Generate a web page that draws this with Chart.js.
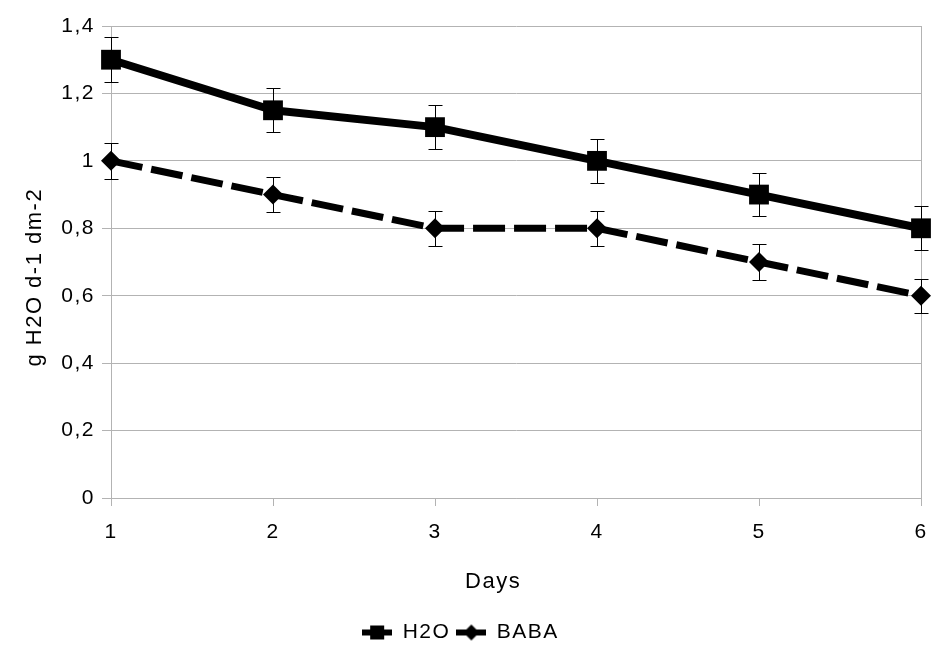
<!DOCTYPE html>
<html>
<head>
<meta charset="utf-8">
<script src="https://cdn.jsdelivr.net/npm/chart.js@4/dist/chart.umd.min.js"></script>
<style>
  html, body { margin: 0; padding: 0; background: #fff; }
  #wrap { width: 932px; height: 646px; }
</style>
</head>
<body>
<div id="wrap"><canvas id="c" width="932" height="646"></canvas></div>
<script>
const days = ['1', '2', '3', '4', '5', '6'];
const h2oValues = [1.3, 1.15, 1.1, 1.0, 0.9, 0.8];
const h2oErrors = [0.066, 0.065, 0.066, 0.065, 0.065, 0.065];
const babaValues = [1.0, 0.9, 0.8, 0.8, 0.7, 0.6];
const babaErrors = [0.053, 0.053, 0.052, 0.052, 0.052, 0.051];
const yTickValues = [0, 0.2, 0.4, 0.6, 0.8, 1.0, 1.2, 1.4];
const yTickLabels = ['0', '0,2', '0,4', '0,6', '0,8', '1', '1,2', '1,4'];
const xTitle = 'Days';
const yTitle = 'g H2O d-1 dm-2';

const FONT = '"Liberation Sans", Arial, sans-serif';
const GRID = '#b3b3b3';

function legendIcon(kind) {
  const c = document.createElement('canvas');
  c.width = 30; c.height = 18;
  const g = c.getContext('2d');
  g.fillStyle = '#000';
  g.fillRect(0, 6, 30, 6);
  g.beginPath();
  if (kind === 'rect') {
    g.rect(8, 2, 14, 14);
  } else {
    g.moveTo(15, 1); g.lineTo(23, 9); g.lineTo(15, 17); g.lineTo(7, 9); g.closePath();
  }
  g.fill();
  return c;
}

const wideText = {
  id: 'wideText',
  beforeUpdate(chart) { chart.ctx.letterSpacing = '1.5px'; },
  beforeDraw(chart) { chart.ctx.letterSpacing = '1.5px'; }
};

const errorBars = {
  id: 'errorBars',
  beforeDatasetsDraw(chart) {
    const ctx = chart.ctx;
    const y = chart.scales.y;
    const errs = [h2oErrors, babaErrors];
    ctx.save();
    ctx.strokeStyle = '#000';
    ctx.lineWidth = 1;
    chart.data.datasets.forEach((ds, i) => {
      const meta = chart.getDatasetMeta(i);
      meta.data.forEach((pt, j) => {
        const v = ds.data[j];
        const e = errs[i][j];
        const x = Math.round(pt.x) + 0.5;
        const yt = Math.round(y.getPixelForValue(v + e)) + 0.5;
        const yb = Math.round(y.getPixelForValue(v - e)) + 0.5;
        ctx.beginPath();
        ctx.moveTo(x, yt); ctx.lineTo(x, yb);
        ctx.moveTo(x - 7, yt); ctx.lineTo(x + 7, yt);
        ctx.moveTo(x - 7, yb); ctx.lineTo(x + 7, yb);
        ctx.stroke();
      });
    });
    ctx.restore();
  }
};

// trailing spaces shift the centred axis titles the way the reference places them
const SP = '\u00a0';

new Chart(document.getElementById('c'), {
  type: 'line',
  data: {
    labels: days,
    datasets: [
      {
        label: 'H2O',
        data: h2oValues,
        borderColor: '#000',
        backgroundColor: '#000',
        borderWidth: 8,
        tension: 0,
        pointStyle: 'rect',
        pointRadius: 14,
        pointBorderWidth: 0,
        pointBackgroundColor: '#000',
        borderJoinStyle: 'round'
      },
      {
        label: 'BABA',
        data: babaValues,
        borderColor: '#000',
        backgroundColor: '#000',
        borderWidth: 7,
        borderDash: [32, 9],
        borderCapStyle: 'butt',
        tension: 0,
        pointStyle: 'rectRot',
        pointRadius: 10,
        pointBorderWidth: 0,
        pointBackgroundColor: '#000'
      }
    ]
  },
  options: {
    responsive: false,
    animation: false,
    events: [],
    layout: { autoPadding: false, padding: { left: 0, right: 11, top: 26, bottom: -7 } },
    plugins: {
      tooltip: { enabled: false },
      legend: {
        position: 'bottom',
        labels: {
          color: '#000',
          font: { family: FONT, size: 21 },
          padding: 6,
          usePointStyle: true,
          pointStyleWidth: 30,
          boxHeight: 18,
          generateLabels(chart) {
            return chart.data.datasets.map((ds, i) => ({
              text: ds.label,
              pointStyle: legendIcon(i === 0 ? 'rect' : 'diamond'),
              fillStyle: '#000',
              strokeStyle: '#000',
              lineWidth: 0,
              hidden: false,
              datasetIndex: i,
              fontColor: '#000'
            }));
          }
        }
      }
    },
    scales: {
      x: {
        type: 'category',
        offset: false,
        afterFit(s) { s.height = 118; s.paddingLeft = 6; s.paddingRight = 6; },
        grid: {
          color: (c) => (c.index === 0 || c.index === days.length - 1) ? GRID : 'rgba(0,0,0,0)',
          tickColor: GRID,
          tickLength: 8,
          lineWidth: 1
        },
        border: { color: GRID, width: 1 },
        ticks: {
          color: '#000',
          font: { family: FONT, size: 21, lineHeight: '50px' },
          padding: 1,
          maxRotation: 0
        },
        title: {
          display: true,
          text: xTitle + SP.repeat(6),
          color: '#000',
          font: { family: FONT, size: 22 },
          padding: { top: 0, bottom: 21 }
        }
      },
      y: {
        min: 0,
        max: 1.4,
        afterFit(s) { s.width = 111; },
        afterBuildTicks(s) { s.ticks = yTickValues.map(v => ({ value: v })); },
        grid: { color: GRID, tickColor: GRID, tickLength: 9, lineWidth: 1 },
        border: { color: GRID, width: 1 },
        ticks: {
          color: '#000',
          font: { family: FONT, size: 21 },
          padding: 7,
          callback: (v) => {
            const i = yTickValues.findIndex(t => Math.abs(t - v) < 1e-9);
            return i >= 0 ? yTickLabels[i] : '';
          }
        },
        title: {
          display: true,
          text: yTitle + SP.repeat(4),
          color: '#000',
          font: { family: FONT, size: 22 },
          padding: { top: 22, bottom: 0 }
        }
      }
    }
  },
  plugins: [wideText, errorBars]
});
</script>
</body>
</html>
